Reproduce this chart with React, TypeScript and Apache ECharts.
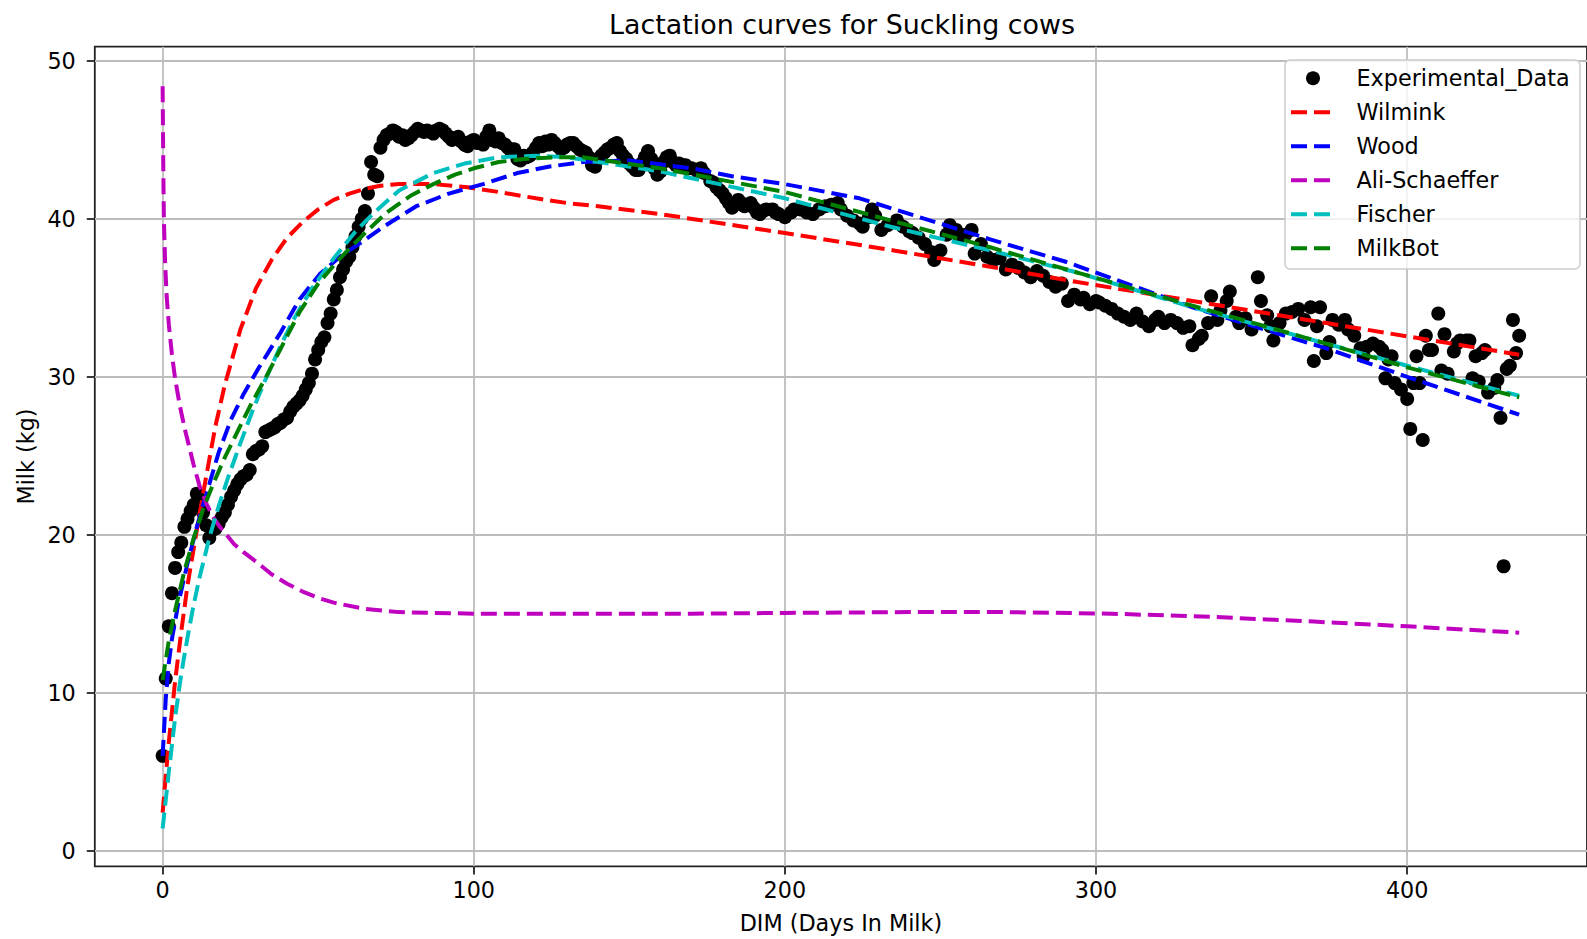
import React, { useEffect, useRef } from "react";
import * as echarts from "echarts";

// Axis ticks
const X_TICKS = [0, 100, 200, 300, 400];
const Y_TICKS = [0, 10, 20, 30, 40, 50];

// Daily milk yield records: [day in milk, kg]
const experimentalData: [number, number][] = [
  [0, 6.0], [1, 10.9], [2, 14.2], [3, 16.3], [4, 17.9], [5, 18.9], [6, 19.5], [7, 20.5], [8, 21.0], [9, 21.5],
  [10, 21.9], [11, 22.6], [12, 22.2], [13, 21.4], [14, 20.6], [15, 19.8], [16, 20.3], [17, 20.4], [18, 20.7], [19, 21.1],
  [20, 21.4], [21, 21.9], [22, 22.4], [23, 22.8], [24, 23.2], [25, 23.5], [26, 23.7], [27, 23.8], [28, 24.1], [29, 25.1],
  [30, 25.3], [31, 25.4], [32, 25.6], [33, 26.5], [34, 26.6], [35, 26.7], [36, 26.8], [37, 27.0], [38, 27.1], [39, 27.3],
  [40, 27.4], [41, 27.8], [42, 28.1], [43, 28.3], [44, 28.5], [45, 28.8], [46, 29.2], [47, 29.6], [48, 30.2], [49, 31.1],
  [50, 31.7], [51, 32.2], [52, 32.5], [53, 33.4], [54, 34.0], [55, 34.9], [56, 35.5], [57, 36.3], [58, 36.8], [59, 37.3],
  [60, 37.6], [61, 38.2], [62, 38.9], [63, 39.5], [64, 40.0], [65, 40.5], [66, 41.6], [67, 43.6], [68, 42.8], [69, 42.7],
  [70, 44.5], [71, 45.0], [72, 45.3], [73, 45.4], [74, 45.6], [75, 45.5], [76, 45.2], [77, 45.3], [78, 45.0], [79, 45.1],
  [80, 45.3], [81, 45.5], [82, 45.7], [83, 45.6], [84, 45.5], [85, 45.6], [86, 45.5], [87, 45.4], [88, 45.6], [89, 45.7],
  [90, 45.6], [91, 45.4], [92, 45.2], [93, 45.0], [94, 45.1], [95, 45.2], [96, 44.9], [97, 44.7], [98, 44.6], [99, 44.9],
  [100, 45.0], [101, 44.8], [102, 44.8], [103, 44.7], [104, 45.2], [105, 45.6], [106, 45.0], [107, 44.9], [108, 45.1], [109, 44.8],
  [110, 44.7], [111, 44.5], [112, 44.3], [113, 44.4], [114, 43.8], [115, 43.7], [116, 44.0], [117, 43.9], [118, 44.0], [119, 44.2],
  [120, 44.5], [121, 44.8], [122, 44.6], [123, 44.9], [124, 44.7], [125, 45.0], [126, 44.8], [127, 44.6], [128, 44.4], [129, 44.5],
  [130, 44.7], [131, 44.8], [132, 44.8], [133, 44.6], [134, 44.4], [135, 44.3], [136, 44.2], [137, 43.9], [138, 43.4], [139, 43.3],
  [140, 43.8], [141, 44.0], [142, 44.2], [143, 44.4], [144, 44.5], [145, 44.7], [146, 44.8], [147, 44.3], [148, 44.0], [149, 43.8],
  [150, 43.5], [151, 43.3], [152, 43.1], [153, 43.1], [154, 43.5], [155, 43.9], [156, 44.3], [157, 43.8], [158, 43.2], [159, 42.8],
  [160, 43.0], [161, 43.6], [162, 43.9], [163, 44.0], [164, 43.6], [165, 43.4], [166, 43.5], [167, 43.4], [168, 43.4], [169, 43.2],
  [170, 43.2], [172, 43.0], [173, 43.2], [174, 42.9], [176, 42.4], [177, 42.3], [178, 42.0], [179, 41.8], [180, 41.6], [181, 41.3],
  [182, 41.0], [183, 40.7], [184, 40.9], [185, 41.2], [186, 41.0], [187, 40.8], [188, 40.9], [189, 41.0], [190, 40.7], [191, 40.4],
  [192, 40.3], [193, 40.5], [194, 40.6], [196, 40.6], [197, 40.4], [198, 40.3], [200, 40.1], [202, 40.4], [203, 40.6], [205, 40.6],
  [207, 40.4], [209, 40.3], [211, 40.6], [213, 40.8], [215, 40.9], [217, 41.0], [218, 40.6], [220, 40.2], [222, 39.9], [224, 39.7],
  [225, 39.5], [227, 40.1], [228, 40.6], [229, 40.2], [231, 39.3], [233, 39.6], [236, 39.9], [238, 39.5], [240, 39.2], [241, 39.1],
  [243, 38.8], [245, 38.4], [247, 37.9], [248, 37.4], [250, 38.0], [252, 39.0], [253, 39.6], [255, 39.3], [256, 38.9], [258, 39.0],
  [260, 39.3], [261, 37.8], [263, 38.4], [265, 37.6], [267, 37.4], [269, 37.5], [271, 36.8], [273, 37.1], [275, 36.9], [277, 36.6],
  [279, 36.3], [281, 36.7], [283, 36.4], [285, 36.0], [287, 35.7], [289, 35.9], [291, 34.8], [293, 35.2], [295, 34.9], [296, 35.0],
  [298, 34.6], [300, 34.8], [301, 34.7], [303, 34.5], [305, 34.3], [307, 34.0], [309, 33.8], [311, 33.6], [313, 34.0], [315, 33.5],
  [317, 33.2], [319, 33.6], [320, 33.8], [322, 33.4], [324, 33.6], [326, 33.4], [328, 33.1], [330, 33.2], [331, 32.0], [333, 32.4],
  [334, 32.6], [336, 33.4], [337, 35.1], [339, 33.6], [340, 34.2], [342, 34.8], [343, 35.4], [345, 33.8], [346, 33.4], [348, 33.7],
  [350, 33.0], [352, 36.3], [353, 34.8], [355, 33.9], [356, 33.2], [357, 32.3], [359, 33.4], [361, 34.0], [363, 34.1], [365, 34.3],
  [367, 33.6], [369, 34.4], [370, 31.0], [371, 33.2], [372, 34.4], [374, 31.5], [375, 32.2], [376, 33.6], [378, 33.3], [380, 33.6],
  [381, 33.0], [383, 32.6], [385, 31.8], [386, 31.3], [387, 31.9], [389, 32.1], [391, 31.9], [392, 31.7], [393, 29.9], [394, 31.1],
  [395, 31.3], [396, 29.6], [398, 29.2], [400, 28.6], [401, 26.7], [402, 29.6], [403, 31.3], [404, 29.6], [405, 26.0], [406, 32.6],
  [407, 31.7], [408, 31.7], [410, 34.0], [411, 30.4], [412, 32.7], [413, 30.2], [415, 31.6], [416, 32.1], [417, 32.3], [419, 32.3],
  [420, 32.3], [421, 29.9], [422, 31.3], [423, 29.7], [424, 31.5], [425, 31.7], [426, 29.0], [428, 29.3], [429, 29.8], [430, 27.4],
  [431, 18.0], [432, 30.5], [433, 30.7], [434, 33.6], [435, 31.5], [436, 32.6],
];

// Fitted lactation models: [day in milk, kg]
const wilmink: [number, number][] = [
  [0, 2.4], [1, 4.7], [2, 6.9], [4, 10.7], [6, 13.9], [8, 16.8], [11, 20.3], [14, 23.7], [17, 26.9], [20, 29.5],
  [25, 33.0], [30, 35.6], [35, 37.4], [40, 38.8], [45, 39.8], [50, 40.6], [55, 41.2], [60, 41.6], [65, 41.9], [70, 42.1],
  [76, 42.2], [87, 42.2], [98, 42.0], [108, 41.7], [120, 41.3], [130, 41.0], [140, 40.8], [160, 40.3], [180, 39.7], [200, 39.1],
  [235, 38.0], [265, 37.0], [294, 36.0], [331, 34.8], [374, 33.4], [436, 31.4],
];

const wood: [number, number][] = [
  [0, 6.0], [1, 9.6], [2, 11.9], [3, 13.4], [5, 15.6], [8, 18.2], [11, 20.5], [13, 21.9], [15, 23.2], [18, 25.2],
  [22, 27.3], [26, 28.9], [31, 30.6], [37.6, 32.7], [44, 34.9], [50.5, 36.5], [57, 37.6], [63, 38.4], [71, 39.5], [81.5, 40.8],
  [92, 41.6], [103, 42.2], [114, 42.9], [124, 43.3], [135, 43.6], [150, 43.7], [170, 43.2], [183, 42.7], [200, 42.2], [224, 41.3],
  [245, 40.0], [266, 38.7], [290, 37.3], [331, 34.4], [374, 31.8], [400, 30.0], [436, 27.6],
];

const aliSchaeffer: [number, number][] = [
  [0, 48.4], [0.2, 43.5], [0.4, 40.0], [0.8, 37.2], [1.3, 35.1], [2, 33.3], [3, 31.4], [4, 29.9], [5.5, 28.2], [7, 26.8],
  [8.5, 25.6], [10, 24.4], [12, 23.0], [14, 22.0], [16, 21.2], [18, 20.6], [20.5, 20.0], [23, 19.4], [26, 18.9], [30, 18.3],
  [35, 17.5], [40, 16.9], [45, 16.4], [50, 16.0], [55, 15.7], [65, 15.3], [76, 15.1], [100, 15.0], [130, 15.0], [170, 15.0],
  [200, 15.05], [240, 15.1], [272, 15.1], [305, 15.0], [337, 14.8], [370, 14.5], [400, 14.2], [436, 13.8],
];

const fischer: [number, number][] = [
  [0, 1.4], [2, 5.0], [4, 8.4], [6, 11.2], [8, 13.5], [10, 15.6], [12, 17.4], [15, 19.8], [18, 21.8], [21, 23.6],
  [25, 25.8], [29, 27.9], [33, 29.8], [38, 32.0], [42, 33.6], [48, 35.6], [55, 37.5], [62, 39.2], [68, 40.4], [76, 41.8],
  [87, 42.9], [97, 43.5], [108, 43.9], [120, 44.0], [130, 43.9], [160, 43.0], [200, 41.3], [234, 39.5], [266, 38.0], [294, 36.6],
  [331, 34.4], [374, 32.1], [400, 30.7], [436, 28.8],
];

const milkBot: [number, number][] = [
  [0, 10.8], [2, 13.3], [4, 15.2], [7, 17.7], [10, 19.8], [13, 21.6], [16, 23.1], [20, 24.9], [23, 26.1], [28, 28.1],
  [33, 29.9], [38, 31.8], [44, 34.1], [50, 35.9], [57, 37.5], [65, 39.1], [72, 40.4], [80, 41.5], [87, 42.2], [94, 42.8],
  [100, 43.2], [108, 43.6], [117, 43.8], [127, 43.9], [135, 43.9], [160, 43.2], [200, 41.7], [234, 39.9], [266, 38.2], [294, 36.6],
  [331, 34.5], [374, 32.1], [400, 30.6], [436, 28.7],
];

const MODEL_NAMES = ["Wilmink", "Wood", "Ali-Schaeffer", "Fischer", "MilkBot"];
const MODEL_DATA = [wilmink, wood, aliSchaeffer, fischer, milkBot];
const MODEL_COLORS = ["#ff0000", "#0000ff", "#bf00bf", "#00bfbf", "#008000"];
const SCATTER_NAME = "Experimental_Data";

const FONT = "DejaVu Sans";
const LABEL_SIZE = 22.3;
const TITLE_SIZE = 26.9;
const DASH = [16, 7];
const LINE_WIDTH = 4;

function buildLegend() {
  const boxX = 1285;
  const boxY = 60;
  const rowY0 = 78.3;
  const rowStep = 34;
  const handleX0 = 1291;
  const handleX1 = 1335;
  const textX = 1356.5;
  const font = `${LABEL_SIZE}px "${FONT}"`;
  const children: any[] = [
    {
      type: "rect",
      shape: { x: boxX, y: boxY, width: 295, height: 209, r: 5 },
      style: { fill: "rgba(255,255,255,0.8)", stroke: "#cccccc", lineWidth: 1.5 },
      z: 100,
    },
    {
      type: "circle",
      shape: { cx: (handleX0 + handleX1) / 2, cy: rowY0, r: 7 },
      style: { fill: "#000000" },
      z: 101,
    },
    {
      type: "text",
      x: textX,
      y: rowY0,
      style: { text: SCATTER_NAME, fill: "#000", font, verticalAlign: "middle", align: "left" },
      z: 101,
    },
  ];
  MODEL_NAMES.forEach((name, i) => {
    const y = rowY0 + rowStep * (i + 1);
    children.push({
      type: "line",
      shape: { x1: handleX0, y1: y, x2: handleX1, y2: y },
      style: { stroke: MODEL_COLORS[i], lineWidth: LINE_WIDTH, lineDash: DASH },
      z: 101,
    });
    children.push({
      type: "text",
      x: textX,
      y,
      style: { text: name, fill: "#000", font, verticalAlign: "middle", align: "left" },
      z: 101,
    });
  });
  return children;
}

export default function App() {
  const ref = useRef<HTMLDivElement>(null);

  useEffect(() => {
    if (!ref.current) return;
    const chart = echarts.init(ref.current, undefined, { renderer: "svg" });

    const option: any = {
      animation: false,
      backgroundColor: "#ffffff",
      textStyle: { fontFamily: FONT },
      title: {
        text: "Lactation curves for Suckling cows",
        left: 842,
        top: 11,
        textAlign: "center",
        padding: 0,
        textStyle: { fontSize: TITLE_SIZE, fontWeight: "normal", color: "#000", fontFamily: FONT },
      },
      grid: {
        left: 94.8,
        top: 46.7,
        right: -2.4,
        bottom: 72.3,
        show: true,
        borderColor: "#222222",
        borderWidth: 1.8,
        backgroundColor: "transparent",
        containLabel: false,
      },
      xAxis: {
        type: "value",
        min: -21.8,
        max: 457.8,
        name: "DIM (Days In Milk)",
        nameLocation: "middle",
        nameGap: 45.6,
        nameTextStyle: { fontSize: LABEL_SIZE, color: "#000", fontFamily: FONT },
        axisLine: { show: false, onZero: false },
        axisTick: { show: true, inside: false, length: 8, lineStyle: { color: "#222", width: 1.8 }, customValues: X_TICKS },
        axisLabel: { customValues: X_TICKS, fontSize: LABEL_SIZE, color: "#000", margin: 13, fontFamily: FONT },
        splitLine: { show: true, lineStyle: { color: "#bdbdbd", width: 1.8 } },
      },
      yAxis: {
        type: "value",
        min: -1.0,
        max: 50.9,
        name: "Milk (kg)",
        nameLocation: "middle",
        nameGap: 57,
        nameRotate: 90,
        nameTextStyle: { fontSize: LABEL_SIZE, color: "#000", fontFamily: FONT },
        axisLine: { show: false, onZero: false },
        axisTick: { show: true, inside: false, length: 8, lineStyle: { color: "#222", width: 1.8 }, customValues: Y_TICKS },
        axisLabel: { customValues: Y_TICKS, fontSize: LABEL_SIZE, color: "#000", margin: 19, fontFamily: FONT },
        splitLine: { show: true, lineStyle: { color: "#bdbdbd", width: 1.8 } },
      },
      graphic: { elements: buildLegend() },
      series: [
        {
          name: SCATTER_NAME,
          type: "scatter",
          data: experimentalData,
          symbol: "circle",
          symbolSize: 14,
          itemStyle: { color: "#000000", opacity: 1 },
          z: 2,
          silent: true,
        },
        ...MODEL_NAMES.map((name, i) => ({
          name,
          type: "line",
          data: MODEL_DATA[i],
          symbol: "none",
          showSymbol: false,
          smooth: false,
          lineStyle: { color: MODEL_COLORS[i], width: LINE_WIDTH, type: DASH },
          z: 3 + i,
          silent: true,
        })),
      ],
    };

    chart.setOption(option);
    return () => {
      chart.dispose();
    };
  }, []);

  return (
    <div
      ref={ref}
      style={{ position: "fixed", left: 0, top: 0, width: 1587, height: 939, background: "#fff" }}
    />
  );
}
